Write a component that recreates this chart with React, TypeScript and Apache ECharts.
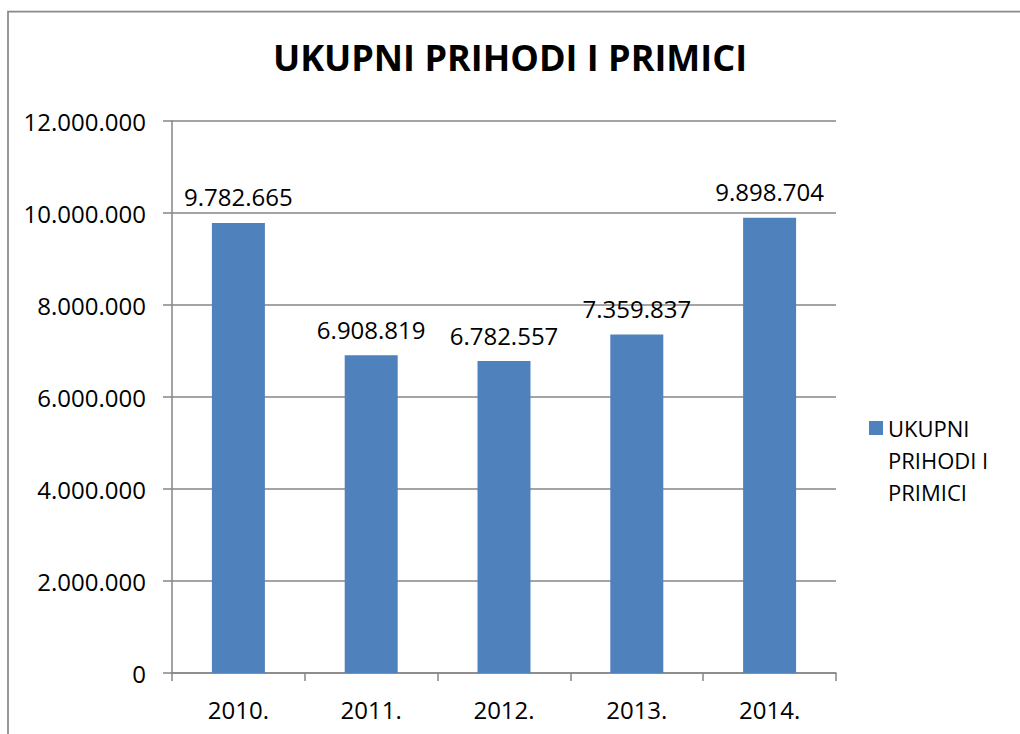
import React, { useEffect, useRef } from "react";
import * as echarts from "echarts";

const TITLE = "UKUPNI PRIHODI I PRIMICI";
const SERIES_NAME = "UKUPNI PRIHODI I PRIMICI";
const categories = ["2010.", "2011.", "2012.", "2013.", "2014."];
const values = [9782665, 6908819, 6782557, 7359837, 9898704];
const yTicks = { min: 0, max: 12000000, interval: 2000000 };

const FONT = "'Open Sans', 'Noto Sans', sans-serif";
const fmt = (v: number) => String(v).replace(/\B(?=(\d{3})+(?!\d))/g, ".");

export default function App() {
  const ref = useRef<HTMLDivElement>(null);
  useEffect(() => {
    if (!ref.current) return;
    const chart = echarts.init(ref.current, null, { renderer: "svg" });
    chart.setOption({
      animation: false,
      backgroundColor: "#ffffff",
      title: {
        text: TITLE,
        left: "center",
        top: 34,
        textStyle: { fontFamily: FONT, fontSize: 36, fontWeight: "bold", color: "#000" },
      },
      graphic: [
        {
          type: "rect",
          shape: { x: 8, y: 11.5, width: 2000, height: 2000 },
          style: { fill: "none", stroke: "#898989", lineWidth: 1.75 },
          silent: true,
        },
      ],
      legend: {
        orient: "vertical",
        left: 864,
        top: 343,
        icon: "rect",
        itemWidth: 14,
        itemHeight: 14,
        formatter: (name: string) => " \n \n" + name.replace(" PRIHODI I ", "\nPRIHODI I\n"),
        textStyle: {
          fontFamily: FONT,
          fontSize: 22,
          lineHeight: 32,
          color: "#000",
        },
      },
      grid: { left: 172, top: 121, width: 664, height: 552, containLabel: false },
      xAxis: {
        type: "category",
        data: categories,
        boundaryGap: true,
        axisLine: { lineStyle: { color: "#868686", width: 1.5 } },
        axisTick: { show: true, length: 8, lineStyle: { color: "#868686", width: 1.5 } },
        axisLabel: { fontFamily: FONT, fontSize: 24, color: "#000", margin: 24 },
      },
      yAxis: {
        type: "value",
        min: yTicks.min,
        max: yTicks.max,
        interval: yTicks.interval,
        axisLine: { show: true, lineStyle: { color: "#868686", width: 1.5 } },
        axisTick: { show: true, length: 9, lineStyle: { color: "#868686", width: 1.5 } },
        splitLine: { show: true, lineStyle: { color: "#868686", width: 1.5 } },
        axisLabel: {
          fontFamily: FONT,
          fontSize: 24,
          color: "#000",
          margin: 26,
          formatter: (v: number) => fmt(v),
        },
      },
      series: [
        {
          name: SERIES_NAME,
          type: "bar",
          data: values,
          barWidth: 53,
          itemStyle: { color: "#4F81BD" },
          label: {
            show: true,
            position: "top",
            distance: 14,
            fontFamily: FONT,
            fontSize: 24,
            color: "#000",
            formatter: (p: any) => fmt(p.value),
          },
        },
      ],
    });
    return () => chart.dispose();
  }, []);
  return (
    <div
      ref={ref}
      style={{ position: "absolute", left: 0, top: 0, width: 1020, height: 734 }}
    />
  );
}
